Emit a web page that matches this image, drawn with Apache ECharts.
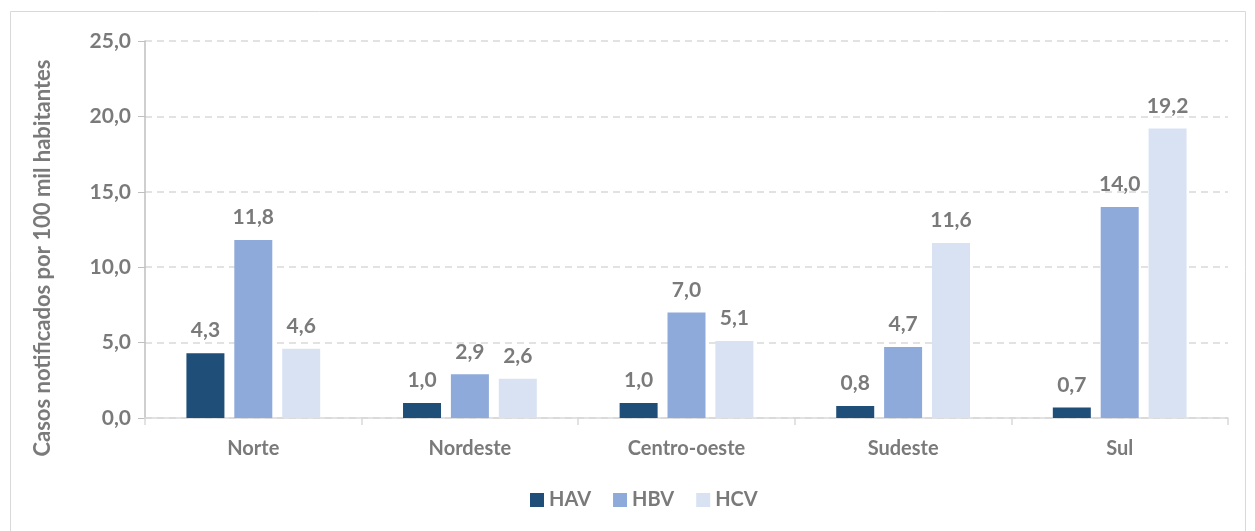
<!DOCTYPE html>
<html>
<head>
<meta charset="utf-8">
<script src="https://cdn.jsdelivr.net/npm/echarts@6/dist/echarts.min.js"></script>
<style>
  html, body { margin: 0; padding: 0; background: #fff; }
  #chart { width: 1255px; height: 531px; }
</style>
</head>
<body>
<div id="chart"></div>
<script>
const regions = ['Norte', 'Nordeste', 'Centro-oeste', 'Sudeste', 'Sul']
const hav = [4.3, 1.0, 1.0, 0.8, 0.7]
const hbv = [11.8, 2.9, 7.0, 4.7, 14.0]
const hcv = [4.6, 2.6, 5.1, 11.6, 19.2]
const yTicks = [0, 5, 10, 15, 20, 25]

const chart = echarts.init(document.getElementById('chart'))

const fmt = (v) => v.toFixed(1).replace('.', ',')
const grayText = '#7a7a7a'
const font = 'Lato, "Open Sans", sans-serif'

function barSeries(name, data, color) {
  return {
    name: name,
    type: 'bar',
    data: data,
    barWidth: 38,
    barGap: '26%',
    itemStyle: { color: color },
    label: {
      show: true,
      position: 'top',
      distance: 12,
      formatter: (p) => fmt(p.value),
      color: grayText,
      fontFamily: font,
      fontWeight: 'bold',
      fontSize: 21,
    },
  }
}

chart.setOption({
  animation: false,
  textStyle: { fontFamily: font },
  grid: { left: 145, right: 27, top: 41, bottom: 113 },
  legend: {
    bottom: 16,
    left: 525,
    itemWidth: 14,
    itemHeight: 14,
    itemGap: 22,
    icon: 'rect',
    textStyle: { color: grayText, fontSize: 20, fontWeight: 'bold', fontFamily: font },
    data: ['HAV', 'HBV', 'HCV'],
  },
  graphic: [
    {
      type: 'rect',
      shape: { x: 10.5, y: 11.5, width: 1235, height: 540 },
      style: { fill: 'none', stroke: '#d9d9d9', lineWidth: 1 },
      silent: true,
    },
    {
      type: 'text',
      x: 43,
      y: 258,
      rotation: Math.PI / 2,
      style: {
        text: 'Casos notificados por 100 mil habitantes',
        fill: grayText,
        font: 'bold 22px ' + font,
        align: 'center',
        verticalAlign: 'middle',
      },
    },
  ],
  xAxis: {
    type: 'category',
    data: regions,
    axisLine: { lineStyle: { color: '#d9d9d9', width: 1.5 } },
    axisTick: { show: true, length: 7, lineStyle: { color: '#d9d9d9', width: 1.5 } },
    axisLabel: { color: grayText, fontSize: 20, fontWeight: 'bold', margin: 21, fontFamily: font },
  },
  yAxis: {
    type: 'value',
    min: yTicks[0],
    max: yTicks[yTicks.length - 1],
    interval: 5,
    axisLine: { show: true, lineStyle: { color: '#bfbfbf', width: 1.5 } },
    axisTick: { show: true, length: 7, lineStyle: { color: '#bfbfbf' } },
    axisLabel: { color: grayText, fontSize: 21, fontWeight: 'bold', margin: 14, formatter: (v) => fmt(v), fontFamily: font },
    splitLine: { lineStyle: { color: '#d9d9d9', type: [7, 5], width: 1.5 } },
  },
  series: [
    barSeries('HAV', hav, '#1f4e79'),
    barSeries('HBV', hbv, '#8eaadb'),
    barSeries('HCV', hcv, '#d9e2f3'),
  ],
})
</script>
</body>
</html>
